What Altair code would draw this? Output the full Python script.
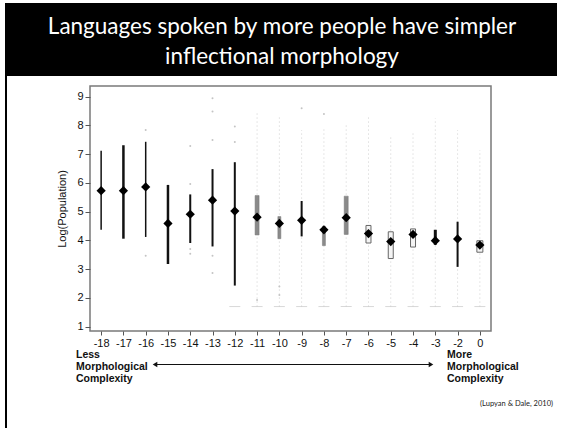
import altair as alt
import pandas as pd

# Morphological complexity categories (x axis)
cats = ["-18", "-17", "-16", "-15", "-14", "-13", "-12", "-11", "-10",
        "-9", "-8", "-7", "-6", "-5", "-4", "-3", "-2", "0"]

# Mean log(population) per category
means = [5.73, 5.73, 5.86, 4.59, 4.91, 5.40, 5.02, 4.81, 4.59,
         4.70, 4.37, 4.79, 4.24, 3.96, 4.21, 3.99, 4.05, 3.84]
# Interval around each mean
lows = [4.37, 4.06, 4.12, 3.18, 3.91, 3.79, 2.43, 4.19, 4.06,
        4.14, 3.82, 4.21, 3.91, 3.37, 3.77, 3.85, 3.08, 3.59]
highs = [7.12, 7.31, 7.43, 5.93, 5.60, 6.48, 6.72, 5.56, 4.83,
         5.37, 4.49, 5.54, 4.52, 4.30, 4.40, 4.37, 4.65, 3.99]
# how each interval is drawn: "line" = black whisker, "fill" = grey bar, "open" = outlined bar
kinds = ["line", "line", "line", "line", "line", "line", "line", "fill", "fill",
         "line", "fill", "fill", "open", "open", "open", "dark", "line", "open"]
widths = [1.5, 2.5, 1.5, 2.5, 2.0, 2.0, 2.0, 4, 3,
          2.0, 3, 4, 5, 5, 5, 3, 2.0, 6]

# Individual languages: spread of points in the denser categories
col_cats = ["-11", "-10", "-9", "-8", "-7", "-6", "-5", "-4", "-3", "-2", "0"]
col_tops = [8.48, 8.30, 7.84, 7.90, 8.07, 8.28, 7.60, 7.72, 8.25, 7.84, 7.14]
col_bottom = 1.7

# Isolated languages in the sparse categories
dot_cats = ["-16", "-16", "-14", "-14", "-14", "-14", "-13", "-13", "-13", "-13", "-13",
            "-12", "-12", "-11", "-10", "-10", "-9", "-8"]
dot_vals = [7.84, 3.47, 7.28, 5.96, 3.70, 3.54, 8.94, 8.48, 7.49, 3.47, 2.87,
            7.96, 7.42, 1.93, 2.40, 2.10, 8.60, 8.40]

# Languages at the population floor
floor_cats = ["-12", "-11", "-10", "-9", "-8", "-7", "-6", "-5", "-4", "-3", "-2", "0"]
floor_val = 1.7

summary = pd.DataFrame({"cat": cats, "mean": means, "lo": lows, "hi": highs,
                        "kind": kinds, "w": widths})
cols = pd.DataFrame({"cat": col_cats, "top": col_tops, "bottom": col_bottom})
dots = pd.DataFrame({"cat": dot_cats, "v": dot_vals})
floor = pd.DataFrame({"cat": floor_cats, "v": floor_val})

FONT = "Liberation Sans"
TITLE_FONT = "Lato"

x_enc = alt.X("cat:O", sort=cats, scale=alt.Scale(type="point", padding=0.5),
              axis=alt.Axis(title=None, labelAngle=0, domain=False, tickSize=4,
                            tickColor="#555", labelFont=FONT, labelFontSize=11,
                            labelColor="#111", labelPadding=2))
y_scale = alt.Scale(domain=[0.85, 9.37], nice=False, zero=False)
y_axis = alt.Axis(title="Log(Population)", values=list(range(1, 10)), grid=False,
                  domain=False, tickSize=5, tickColor="#555", labelFont=FONT,
                  labelFontSize=11, labelColor="#111", labelPadding=2,
                  titleFont=FONT, titleFontSize=11, titleFontWeight="normal",
                  titleColor="#111", titlePadding=9)

base = alt.Chart(summary)

columns = alt.Chart(cols).mark_rule(color="#cfcfcf", strokeWidth=1,
                                    strokeDash=[1, 3]).encode(
    x=x_enc, y=alt.Y("bottom:Q", scale=y_scale, axis=y_axis), y2="top:Q")

scatter = alt.Chart(dots).mark_circle(color="#c4c4c4", size=4, opacity=1).encode(
    x=x_enc, y=alt.Y("v:Q", scale=y_scale, axis=y_axis))

floors = alt.Chart(floor).mark_tick(color="#c8c8c8", size=11, thickness=1,
                                    orient="horizontal").encode(
    x=x_enc, y=alt.Y("v:Q", scale=y_scale, axis=y_axis))

whiskers = base.transform_filter(
    (alt.datum.kind == "line") | (alt.datum.kind == "dark")
).mark_rule(color="#111").encode(
    x=x_enc, y=alt.Y("lo:Q", scale=y_scale, axis=y_axis), y2="hi:Q",
    strokeWidth=alt.StrokeWidth("w:Q", scale=None))

filled = base.transform_filter(alt.datum.kind == "fill").mark_bar(
    color="#8a8a8a", stroke="#777", strokeWidth=0.5).encode(
    x=x_enc, y=alt.Y("lo:Q", scale=y_scale, axis=y_axis), y2="hi:Q",
    size=alt.Size("w:Q", scale=None))

opened = base.transform_filter(alt.datum.kind == "open").mark_bar(
    fill="#f4f4f4", stroke="#666", strokeWidth=1).encode(
    x=x_enc, y=alt.Y("lo:Q", scale=y_scale, axis=y_axis), y2="hi:Q",
    size=alt.Size("w:Q", scale=None))

diamonds = base.mark_point(shape="diamond", filled=True, color="black",
                           size=85, opacity=1).encode(
    x=x_enc, y=alt.Y("mean:Q", scale=y_scale, axis=y_axis))

# Slide furniture: title band, border, annotations (positions are plot-relative pixels)
one = alt.Chart(pd.DataFrame({"k": [0]}))

band = one.mark_rect(color="black").encode(
    x=alt.value(-85), x2=alt.value(467), y=alt.value(-83), y2=alt.value(-10))
border = one.mark_rule(color="black", strokeWidth=2).encode(
    x=alt.value(-84), y=alt.value(-83), y2=alt.value(345))

title1 = one.mark_text(text="Languages spoken by more people have simpler",
                       font=TITLE_FONT, fontSize=22.5, color="white",
                       align="center", baseline="middle").encode(
    x=alt.value(192), y=alt.value(-59))
title2 = one.mark_text(text="inflectional morphology",
                       font=TITLE_FONT, fontSize=22.5, color="white",
                       align="center", baseline="middle").encode(
    x=alt.value(192), y=alt.value(-29))

def label_block(lines, x):
    return [one.mark_text(text=t, font=FONT, fontSize=10.5, fontWeight="bold",
                          color="#111", align="left", baseline="middle").encode(
        x=alt.value(x), y=alt.value(269 + 12 * i)) for i, t in enumerate(lines)]

left_lbl = label_block(["Less", "Morphological", "Complexity"], -14)
right_lbl = label_block(["More", "Morphological", "Complexity"], 357)

arrow_line = one.mark_rule(color="#111", strokeWidth=1).encode(
    x=alt.value(66), x2=alt.value(340), y=alt.value(278.5))
arrow_l = one.mark_point(shape="triangle-left", filled=True, color="#111",
                         size=28, opacity=1).encode(x=alt.value(65), y=alt.value(278.5))
arrow_r = one.mark_point(shape="triangle-right", filled=True, color="#111",
                         size=28, opacity=1).encode(x=alt.value(341), y=alt.value(278.5))

cite = one.mark_text(text="(Lupyan & Dale, 2010)", font=TITLE_FONT, fontSize=7.5,
                     color="#222", align="right", baseline="middle").encode(
    x=alt.value(463), y=alt.value(318))

chart = alt.layer(
    band, border, title1, title2,
    columns, scatter, floors, whiskers, filled, opened, diamonds,
    *left_lbl, *right_lbl, arrow_line, arrow_l, arrow_r, cite
).properties(
    width=401, height=245,
    padding={"left": 90, "top": 86, "right": 72, "bottom": 97},
    autosize=alt.AutoSizeParams(type="none"),
    background="white"
).configure_view(stroke="#7a7a7a", strokeWidth=1.5)

chart.save("out.html", embed_options={"renderer": "svg", "actions": False})
